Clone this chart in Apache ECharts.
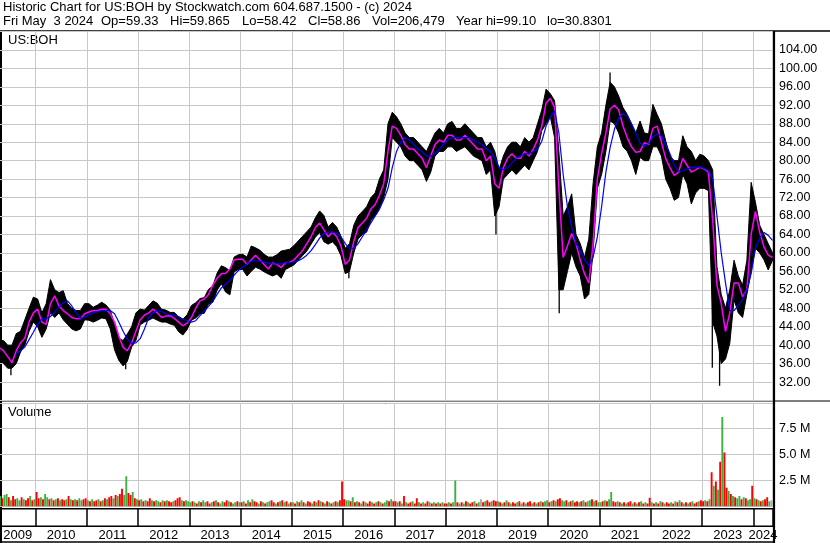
<!DOCTYPE html>
<html><head><meta charset="utf-8">
<script src="https://cdn.jsdelivr.net/npm/echarts/dist/echarts.min.js"></script>
<style>html,body{margin:0;padding:0;background:#fff}#c{width:830px;height:543px}</style>
</head><body><div id="c"></div>
<script>
// ---------- texts ----------
const titleLine1 = 'Historic Chart for US:BOH by Stockwatch.com 604.687.1500 - (c) 2024';
const titleLine2Parts = ['Fri May  3 2024', 'Op=59.33', 'Hi=59.865', 'Lo=58.42', 'Cl=58.86', 'Vol=206,479', 'Year hi=99.10', 'lo=30.8301'];
const symbolLabel = 'US:BOH';
const volumeLabel = 'Volume';
const yearLabels = [2009,2010,2011,2012,2013,2014,2015,2016,2017,2018,2019,2020,2021,2022,2023,2024];

// ---------- monthly price data (Apr 2009 .. May 2024) ----------
const firstMonth = [2009, 4];
const monthHigh = [
  41,41,40,40,42.5,43,45.5,48,50.4,
  50,47,49,54.2,52,51.4,51.8,49,48,47.5,47.5,49,
  49,48.2,48.7,49.3,48.7,47.6,44.5,41.5,41,42.4,44,47,
  47.8,47.6,48.6,49.6,49.1,47.8,47.6,47.1,47.1,46.1,45.6,46.6,
  48.6,49.2,50.1,50.3,52.1,52.8,55.6,57.2,56.8,56.1,59.1,59.6,
  59.7,59.1,61.5,61.1,60.6,59.7,59.1,59.1,59.6,60.4,60.6,60.8,
  61.6,62.6,63.6,64.6,65.6,67.6,69.1,68.1,65.6,66.6,65.6,63.6,
  61,62,66,68,69,70,72,73,76,78,88,90.5,
  89.5,88,86,85,85,84,83,82,84,86,87,86,
  88,88.5,87,87,88,87,86,85,85,83,84,82,
  78,81,83,84,84,83,85,84,85,88,91,95.5,
  94.5,93,82,68,70,72.8,64,62,59,63,75,83,
  86,92,97,96,94,91.5,90,88,86,88.6,86,85.8,
  92.2,90,88,84.3,81,80,80,85.4,83,82,80,81.4,
  81,80,78,57,51,48,52,58.4,55,53,58.4,75.3,
  71,66,64,62,60
];
const monthLow = [
  37,36,35,35,36,38.5,40,43,45,
  44,41.7,43.5,47,46,47,45.5,44.5,43.5,43.1,43.5,45.5,
  45.4,45,45.4,45.9,45.7,43.5,39,36.7,35.5,36.5,39.6,41,
  44.4,45,45.4,45.9,45.4,45,45,44.6,44.3,42.9,42.2,43.4,
  45.4,45.9,46.8,46.9,48.9,49.3,51.9,53.3,51.5,50.9,55.9,56.4,
  56.4,55,56,56.9,56.5,55.9,55.4,55,55.4,54.5,56.4,56.9,
  57.4,58.4,59.4,60.4,61.9,63.4,64.4,62.4,61.9,62.4,61.4,59.4,
  55.5,56,60,63,64,64.5,67,68,69.5,72,76,85,
  84,83,81,80,80,79,78,75.5,77.5,81,82,82,
  83,83,82,82.5,83,82,81,80.5,80,77,78,68,
  70,76,77,78,77,78,79,78,80,82,86.5,88,
  89.5,85,52,52,56,60,57,55,50,51,60,74,
  77,82,88.6,88,86,83,82,80,77,80.7,80,80,
  83,83,81,76,74,71.4,72,77,75,70.6,73,74,
  74,73.5,45,42,36,37,40.4,49.8,47,46,51,56,
  61,60,58.5,56.3,58.4
];
const maFast = [
  39.5,38.8,37.5,36.2,38.8,40.5,41.5,45,47,
  47.8,45,44.5,49,50.7,48.5,47.5,46.8,46,45.7,45.7,46.8,
  47.2,47.5,47.5,47.8,47.8,46.8,45,42,39.5,38.8,40.5,43,
  45.5,46.5,47,47.8,47,46,46.3,46.4,45.8,45,44.2,44.8,
  46,48,49.6,50,51,53,54.5,55.5,55.6,56.5,58.5,58.6,
  58.6,57.5,58.5,59.5,58.5,57.5,56.5,57.8,57.5,56.8,57.9,58,
  58.5,59.5,60.5,62,63.5,65.5,66.5,65,63.5,64.5,63.5,61.5,
  57.5,58.5,62.5,65.5,66.5,67.5,69.5,70.5,72.5,75,82,87.5,
  87,85.5,83.5,82.5,82.5,81.5,80.5,78.5,81,83.5,84.5,84,
  85.5,85.5,84.5,84.5,85.5,84.5,83.5,82.5,82.5,80,81,75,
  74,78.5,80.5,81.5,80.5,80.5,82,81,82.5,84.5,87.5,92.5,
  93.5,91.5,74,59,61.5,64.2,62,58.5,55.5,53.5,62,76,
  81.5,86,91.2,92,91,87.5,85,83,81.8,82,83.9,83.5,
  87,87.5,84,80.5,78.5,76.8,77.5,80.5,79,77.5,78,78.6,
  78.2,77.5,67,53,49,43,47,53.5,53.5,50.5,52,64,
  69,64.5,61.3,59.5,59
];
const maSlow = [
  null,null,null,null,38.1,38.8,39.6,41.2,42.8,
  44.5,45.7,45.7,46.2,47.2,48.3,49.2,49.6,48.5,47,45.8,46,
  46.6,47,47.3,47.5,47.5,47.5,46.8,45,43,41.3,40.4,40.5,
  41.4,43.5,46,47,47.5,47.3,46.8,46.6,46.5,46.2,45.6,45.3,
  45,45.3,46.4,47.4,48.4,49.5,51,52.4,53.2,54,55.2,56.2,
  57,57.6,58.2,58.3,58.2,58,57.8,57.6,57.6,57.7,57.9,57.9,
  58,58.3,58.8,59.5,60.5,61.8,63.2,64.2,64.5,64.5,64.3,63.5,
  62,61,61,62,63.5,65,66.5,68,69.5,71.5,74,78.5,
  82,84,85,84.5,83.5,82.5,82,81,81,81.5,82.5,83.5,
  84.5,85,85,85,85,85,84.5,84,83.5,82.5,82,80.5,
  78.5,78,78.5,79.5,80.5,81,81.5,81.5,82,82.5,84.2,87.5,
  89.5,90.8,86,77,70,65.6,62,60.6,58.6,57.2,59,63.5,
  70,77.5,82.9,86.8,89.2,90.2,89.7,88,86,83.8,83.2,83.7,
  85.2,85.8,85.4,83.5,81.5,79,77.7,77.8,78.2,78.5,78.6,78.6,
  78.3,77.8,76,68,60,53.5,47.5,47.5,48.6,50,52,55.5,
  61,63.2,64.4,63.8,62.7
];
// single-day extremes that stick out of the monthly band: [date, high, low]
const spikes = [
  ['2009-07-08', 38, 33.5],
  ['2011-10-04', 39, 34.8],
  ['2016-02-11', 58, 54.5],
  ['2018-12-24', 74, 64],
  ['2020-03-18', 72, 46.9],
  ['2021-03-15', 99.1, 93],
  ['2023-03-13', 58.4, 35.1],
  ['2023-05-04', 40, 31.2]
];

// ---------- half-month volume (millions) and direction r=down g=up n=unchanged ----------
const vol2009 = [1.4,1.0,0.8,1.1,1.2,0.9,0.6,1.0,0.7,0.8,0.6,0.9,0.7,0.6,0.8,1.0,0.6,0.7];
const dir2009 = 'rgrggrgrrggrgrrgrg';
const vol2010 = [1.4,0.8,0.9,0.7,1.2,0.9,0.7,0.8,0.6,0.7,0.8,0.6,0.7,0.6,0.7,1.0,0.7,0.6,0.7,0.6,0.8,0.6,0.7,0.8];
const dir2010 = 'rrgrggrgrgrgrrgrgrgrggrr';
const vol2011 = [0.6,0.5,0.7,0.5,0.6,0.7,0.5,0.6,0.8,0.7,0.9,1.0,0.8,1.1,1.0,1.2,1.7,1.1,2.9,1.3,1.1,1.4,0.8,0.7];
const dir2011 = 'grgrrgrgrgrrgrgrrggrrgrg';
const vol2012 = [0.6,0.7,0.5,0.6,0.5,0.8,0.6,0.5,0.6,0.5,0.4,0.6,0.5,0.6,0.5,0.4,0.5,0.6,0.8,0.9,0.6,0.5,0.6,0.5];
const dir2012 = 'rgrgrrgrggrgrgrrgrrrgrgg';
const vol2013 = [0.4,0.5,0.4,0.3,0.5,0.4,0.6,0.4,0.5,0.3,0.4,0.5,0.6,0.4,0.3,0.5,0.4,0.6,0.5,0.4,0.3,0.4,0.5,0.4];
const dir2013 = 'grgrgrggrrgrgrggrrgrggrg';
const vol2014 = [0.4,0.5,0.3,0.6,0.4,0.7,0.5,0.4,0.3,0.5,0.4,0.3,0.4,0.5,0.6,0.4,0.3,0.4,0.5,0.6,0.4,0.5,0.3,0.4];
const dir2014 = 'rgrgrgrrgrgrggrrgrgrgrgr';
const vol2015 = [0.4,0.3,0.5,0.4,0.6,0.4,0.3,0.5,0.4,0.3,0.5,0.4,0.6,0.5,0.4,0.3,0.5,0.4,0.3,0.4,0.5,0.4,0.6,2.4];
const dir2015 = 'grgrgrgrrgrgrgrgrgrgrgrr';
const vol2016 = [0.7,0.6,0.6,0.5,0.9,0.4,0.5,0.4,0.3,0.5,0.4,0.3,0.5,0.4,0.3,0.4,0.5,0.4,0.3,0.4,0.6,0.5,0.7,0.5];
const dir2016 = 'rggrgrgrgrgrrgrgrgrggrgr';
const vol2017 = [0.5,0.4,0.5,0.3,1.0,0.4,0.3,0.4,0.5,0.3,0.8,0.4,0.3,0.4,0.3,0.5,0.4,0.3,0.4,0.3,0.4,0.3,0.4,0.3];
const dir2017 = 'rgrgrgrrgrrgrgrrgrgrgrgr';
const vol2018 = [0.3,0.4,0.3,0.4,2.5,0.4,0.3,0.4,0.3,0.5,0.4,0.3,0.4,0.5,0.3,0.4,0.7,0.4,0.5,0.6,0.4,0.5,0.6,0.5];
const dir2018 = 'rgrggrgrgrgrrgrgnrgrrgrr';
const vol2019 = [0.5,0.4,0.3,0.4,0.6,0.4,0.3,0.4,0.3,0.4,0.5,0.3,0.4,0.3,0.4,0.5,0.3,0.4,0.3,0.4,0.5,0.4,0.5,0.6];
const dir2019 = 'grgrgrgrrgrgrgrrgrgrgrgg';
const vol2020 = [0.4,0.5,0.6,0.5,0.7,0.8,0.6,0.5,0.6,0.4,0.5,0.6,0.4,0.5,0.4,0.5,0.6,0.4,0.5,0.6,0.7,0.5,0.6,0.4];
const dir2020 = 'rgrgrrggrgrgrrgrgrggrgrg';
const vol2021 = [0.4,0.5,0.6,0.5,0.7,1.4,0.5,0.4,0.5,0.4,0.3,0.4,0.3,0.4,0.5,0.3,0.4,0.3,0.4,0.5,0.3,0.4,0.3,0.85];
const dir2021 = 'grgrggrrgrgrgrrgrgrgrgrr';
const vol2022 = [0.4,0.3,0.4,0.3,0.5,0.4,0.3,0.4,0.3,0.4,0.3,0.5,0.4,0.6,0.4,0.3,0.4,0.3,0.4,0.5,0.3,0.4,0.5,0.6];
const dir2022 = 'grgrgrgrrgrgrgrgrgrgrrgr';
const vol2023 = [0.5,0.6,0.5,0.7,3.3,2.0,2.4,1.6,4.3,8.6,5.2,1.8,1.5,1.2,1.0,0.9,0.8,1.0,0.7,0.9,0.8,0.6,0.7,2.0];
const dir2023 = 'rgrgrgrgrgrrgrgrggrgrggr';
const vol2024 = [0.8,0.7,0.6,0.5,0.6,0.7,0.9,0.5,0.6];
const dir2024 = 'grgrgrrgn';
const volumeYears = [
  [2009,4,vol2009,dir2009],[2010,1,vol2010,dir2010],[2011,1,vol2011,dir2011],[2012,1,vol2012,dir2012],
  [2013,1,vol2013,dir2013],[2014,1,vol2014,dir2014],[2015,1,vol2015,dir2015],[2016,1,vol2016,dir2016],
  [2017,1,vol2017,dir2017],[2018,1,vol2018,dir2018],[2019,1,vol2019,dir2019],[2020,1,vol2020,dir2020],
  [2021,1,vol2021,dir2021],[2022,1,vol2022,dir2022],[2023,1,vol2023,dir2023],[2024,1,vol2024,dir2024]
];

// ---------- layout / style ----------
const X_MIN = 2009, X_MAX = 2024.376;
const PX_PER_YEAR = 51.27;
const GRID_LEFT = 35.5 - PX_PER_YEAR;
const GRID_W = (X_MAX - X_MIN) * PX_PER_YEAR;
const FONT = 'Liberation Sans';
const GRID_GRAY = '#c8c8c8';
const volColors = ['#ff0000', '#3cb043', '#a8a8a8'];
const titleLine2X = [3, 101, 170, 242, 308, 372, 456, 547];

function monthX(i) { return firstMonth[0] + (firstMonth[1] - 1 + i + 0.5) / 12; }
function dateX(s) { const p = s.split('-').map(Number); return p[0] + (p[1] - 1 + (p[2] - 0.5) / 30.44) / 12; }

const volData = [];
volumeYears.forEach(([yr, m0, vals, dirs]) => {
  vals.forEach((v, k) => {
    const m = m0 + Math.floor(k / 2), h = k % 2;
    volData.push([yr + (m - 1 + 0.25 + 0.5 * h) / 12, v, 'rgn'.indexOf(dirs[k])]);
  });
});
const fastData = maFast.map((v, i) => [monthX(i), v]);
const slowData = [];
maSlow.forEach((v, i) => { if (v != null) slowData.push([monthX(i), v]); });
const spikeData = spikes.map(s => [dateX(s[0]), s[1], s[2]]);

function xAxisBase(gridIndex, split) {
  return {
    type: 'value', gridIndex, min: X_MIN, max: X_MAX, interval: 1,
    axisLine: {show: false}, axisTick: {show: false}, axisLabel: {show: false},
    splitLine: split ? {show: true, lineStyle: split} : {show: false}
  };
}
const gridBase = {left: GRID_LEFT, width: GRID_W, outerBoundsMode: 'none', containLabel: false};

const headerGraphics = [
  {type: 'text', left: 3, top: 1, silent: true, style: {text: titleLine1, fontSize: 13, fontFamily: FONT, fill: '#000'}}
].concat(titleLine2Parts.map((t, i) => ({
  type: 'text', left: titleLine2X[i], top: 15, silent: true, style: {text: t, fontSize: 13, fontFamily: FONT, fill: '#000'}
})));

const chart = echarts.init(document.getElementById('c'), null, {renderer: 'canvas', width: 830, height: 543});
chart.setOption({
  animation: false,
  backgroundColor: '#fff',
  grid: [
    Object.assign({top: 31.5, height: 369}, gridBase),
    Object.assign({top: 403.5, height: 103}, gridBase),
    Object.assign({top: 509, height: 17}, gridBase),
    Object.assign({top: 526.5, height: 16}, gridBase)
  ],
  xAxis: [
    xAxisBase(0, {color: GRID_GRAY, width: 1}),
    xAxisBase(1, {color: GRID_GRAY, width: 1}),
    xAxisBase(2, {color: '#000', width: 1.5}),
    xAxisBase(3, null)
  ],
  yAxis: [
    {type: 'value', gridIndex: 0, min: 28, max: 108, interval: 4, position: 'right',
     axisLine: {show: false}, axisTick: {show: false},
     splitLine: {lineStyle: {color: GRID_GRAY, width: 1}},
     axisLabel: {margin: 6.5, color: '#000', fontSize: 12.5, fontFamily: FONT, align: 'left',
       formatter: v => (v >= 32 && v <= 104) ? v.toFixed(2) : ''}},
    {type: 'value', gridIndex: 1, min: 0, max: 9.9, interval: 2.5, position: 'right',
     axisLine: {show: false}, axisTick: {show: false},
     splitLine: {lineStyle: {color: GRID_GRAY, width: 1}},
     axisLabel: {margin: 6.5, color: '#000', fontSize: 12.5, fontFamily: FONT, align: 'left',
       formatter: v => (v > 0 && v < 9) ? v.toFixed(1) + ' M' : ''}},
    {type: 'value', gridIndex: 2, min: 0, max: 1, show: false},
    {type: 'value', gridIndex: 3, min: 0, max: 1, show: false}
  ],
  series: [
    {
      type: 'custom', xAxisIndex: 0, yAxisIndex: 0, clip: true, silent: true,
      data: [[2015, 60]], encode: {x: 0, y: 1},
      renderItem: (params, api) => {
        const top = monthHigh.map((v, i) => api.coord([monthX(i), v]));
        const bot = monthLow.map((v, i) => api.coord([monthX(i), v])).reverse();
        return {type: 'polygon', shape: {points: top.concat(bot)}, style: {fill: '#000', stroke: '#000', lineWidth: 1}};
      }
    },
    {
      type: 'custom', xAxisIndex: 0, yAxisIndex: 0, clip: true, silent: true,
      data: spikeData, encode: {x: 0, y: 1},
      renderItem: (params, api) => {
        const a = api.coord([api.value(0), api.value(1)]);
        const b = api.coord([api.value(0), api.value(2)]);
        return {type: 'line', shape: {x1: a[0], y1: a[1], x2: b[0], y2: b[1]}, style: {stroke: '#000', lineWidth: 1.3}};
      }
    },
    {type: 'line', xAxisIndex: 0, yAxisIndex: 0, data: fastData, showSymbol: false, silent: true,
     lineStyle: {color: '#ff00ff', width: 1.5}, itemStyle: {color: '#ff00ff'}},
    {type: 'line', xAxisIndex: 0, yAxisIndex: 0, data: slowData, showSymbol: false, silent: true,
     lineStyle: {color: '#0000ff', width: 1.2}, itemStyle: {color: '#0000ff'}},
    {
      type: 'custom', xAxisIndex: 1, yAxisIndex: 1, clip: true, silent: true,
      data: volData, encode: {x: 0, y: 1},
      renderItem: (params, api) => {
        const x = api.value(0), v = api.value(1), d = api.value(2);
        const b = api.coord([x, 0]), t = api.coord([x, v]);
        return {type: 'rect', shape: {x: b[0] - 0.95, y: t[1], width: 1.9, height: b[1] - t[1]}, style: {fill: volColors[d]}};
      }
    },
    {
      type: 'custom', xAxisIndex: 3, yAxisIndex: 3, clip: false, silent: true,
      data: yearLabels.map(y => [y, 0.5]), encode: {x: 0, y: 1},
      renderItem: (params, api) => {
        const y = api.value(0);
        const cs = params.coordSys;
        const p0 = api.coord([y, 0.5]), p1 = api.coord([y + 1, 0.5]);
        const l = Math.max(p0[0], 0), r = Math.min(p1[0], cs.x + cs.width);
        return {type: 'text', style: {text: String(y), x: (l + r) / 2, y: p0[1] + 0.5,
          align: 'center', verticalAlign: 'middle', textAlign: 'center', textVerticalAlign: 'middle',
          fontSize: 13, fontFamily: FONT, fill: '#000'}};
      }
    }
  ],
  graphic: headerGraphics.concat([
    {type: 'text', left: 8, top: 34, silent: true, style: {text: symbolLabel, fontSize: 13, fontFamily: FONT, fill: '#000'}},
    {type: 'text', left: 8, top: 406, silent: true, style: {text: volumeLabel, fontSize: 13, fontFamily: FONT, fill: '#000'}},
    {type: 'line', silent: true, shape: {x1: 0, y1: 31, x2: 830, y2: 31}, style: {stroke: '#000', lineWidth: 1.5}},
    {type: 'line', silent: true, shape: {x1: 0, y1: 401, x2: 830, y2: 401}, style: {stroke: '#000', lineWidth: 1.2}},
    {type: 'line', silent: true, shape: {x1: 0, y1: 403.5, x2: 774, y2: 403.5}, style: {stroke: '#000', lineWidth: 1}},
    {type: 'line', silent: true, shape: {x1: 0, y1: 508.8, x2: 774, y2: 508.8}, style: {stroke: '#000', lineWidth: 1.5}},
    {type: 'line', silent: true, shape: {x1: 0, y1: 526.2, x2: 774, y2: 526.2}, style: {stroke: '#000', lineWidth: 1.5}},
    {type: 'line', silent: true, shape: {x1: 0, y1: 542, x2: 774, y2: 542}, style: {stroke: '#000', lineWidth: 1.5}},
    {type: 'line', silent: true, shape: {x1: 774, y1: 31, x2: 774, y2: 543}, style: {stroke: '#000', lineWidth: 2.2}},
    {type: 'line', silent: true, shape: {x1: 1, y1: 31, x2: 1, y2: 543}, style: {stroke: '#000', lineWidth: 2}}
  ])
});
</script>
</body></html>
